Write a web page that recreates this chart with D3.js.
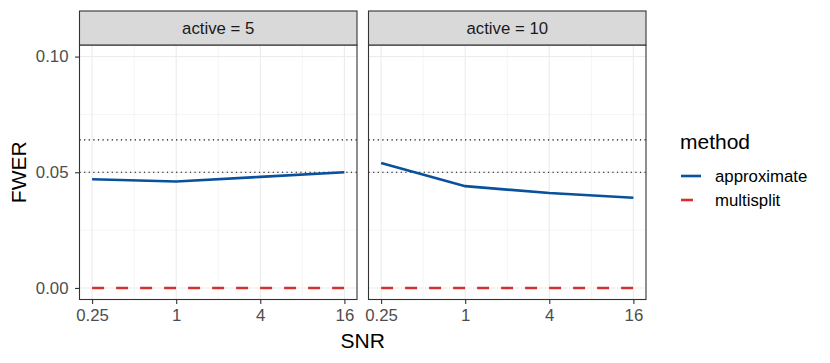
<!DOCTYPE html>
<html>
<head>
<meta charset="utf-8">
<script src="https://cdn.jsdelivr.net/npm/d3@7"></script>
<style>
  body { margin: 0; background: #fff; }
  text { font-family: "Liberation Sans", Arial, sans-serif; }
</style>
</head>
<body>
<svg id="chart" width="830" height="363"></svg>
<script>
// data
var snr = [0.25, 1, 4, 16];
var panels = ["active = 5", "active = 10"];
var methods = ["approximate", "multisplit"];
var approx5 = [0.047, 0.046, 0.048, 0.050];
var approx10 = [0.054, 0.044, 0.041, 0.039];
var multi5 = [0, 0, 0, 0];
var multi10 = [0, 0, 0, 0];
var refLines = [0.05, 0.064];
var yTicks = [0, 0.05, 0.10];
var yMinor = [0.025, 0.075];
var xMinor = [0.5, 2, 8];

var colors = { approximate: "#08519c", multisplit: "#d53030" };
var dashes = { approximate: null, multisplit: "12,12" };

var seriesByPanel = [
  { approximate: approx5, multisplit: multi5 },
  { approximate: approx10, multisplit: multi10 }
];

var svg = d3.select("#chart");

var plotTop = 45, plotBottom = 299.5, stripTop = 11;
var panelX = [[79.5, 357], [368.5, 646]];
var small = 16.8, big = 21;

var y = d3.scaleLinear().domain([-0.005, 0.105]).range([plotBottom, plotTop]);

panels.forEach(function (label, i) {
  var x0 = panelX[i][0], x1 = panelX[i][1];
  var x = d3.scaleLog().base(2).domain([0.25 / Math.pow(2, 0.3), 16 * Math.pow(2, 0.3)]).range([x0, x1]);
  var g = svg.append("g");

  // minor grid
  g.selectAll(".ymin").data(yMinor).enter().append("line")
    .attr("x1", x0).attr("x2", x1).attr("y1", function (d) { return y(d); }).attr("y2", function (d) { return y(d); })
    .attr("stroke", "#ebebeb").attr("stroke-width", 0.55);
  g.selectAll(".xmin").data(xMinor).enter().append("line")
    .attr("y1", plotTop).attr("y2", plotBottom).attr("x1", function (d) { return x(d); }).attr("x2", function (d) { return x(d); })
    .attr("stroke", "#ebebeb").attr("stroke-width", 0.55);
  // major grid
  g.selectAll(".ymaj").data(yTicks).enter().append("line")
    .attr("x1", x0).attr("x2", x1).attr("y1", function (d) { return y(d); }).attr("y2", function (d) { return y(d); })
    .attr("stroke", "#ebebeb").attr("stroke-width", 1.1);
  g.selectAll(".xmaj").data(snr).enter().append("line")
    .attr("y1", plotTop).attr("y2", plotBottom).attr("x1", function (d) { return x(d); }).attr("x2", function (d) { return x(d); })
    .attr("stroke", "#ebebeb").attr("stroke-width", 1.1);

  // reference lines
  g.selectAll(".ref").data(refLines).enter().append("line")
    .attr("x1", x0).attr("x2", x1).attr("y1", function (d) { return y(d); }).attr("y2", function (d) { return y(d); })
    .attr("stroke", "#000").attr("stroke-width", 1.2).attr("stroke-dasharray", "1.2,3.4");

  // series
  var line = d3.line().x(function (d) { return x(d[0]); }).y(function (d) { return y(d[1]); });
  methods.forEach(function (m) {
    var vals = seriesByPanel[i][m];
    g.append("path")
      .datum(snr.map(function (s, k) { return [s, vals[k]]; }))
      .attr("d", line)
      .attr("fill", "none")
      .attr("stroke", colors[m])
      .attr("stroke-width", 2.6)
      .attr("stroke-dasharray", dashes[m]);
  });

  // panel border
  g.append("rect").attr("x", x0).attr("y", plotTop).attr("width", x1 - x0).attr("height", plotBottom - plotTop)
    .attr("fill", "none").attr("stroke", "#333").attr("stroke-width", 1.1);

  // strip
  g.append("rect").attr("x", x0).attr("y", stripTop).attr("width", x1 - x0).attr("height", plotTop - stripTop)
    .attr("fill", "#d9d9d9").attr("stroke", "#333").attr("stroke-width", 1.1);
  g.append("text").attr("x", (x0 + x1) / 2).attr("y", (stripTop + plotTop) / 2 + 6)
    .attr("text-anchor", "middle").attr("font-size", small).attr("fill", "#1a1a1a").text(label);

  // x axis
  var xAxis = d3.axisBottom(x).tickValues(snr).tickSize(4.5).tickPadding(5.5)
    .tickFormat(function (d) { return String(d); });
  var ax = g.append("g").attr("transform", "translate(0," + plotBottom + ")").call(xAxis);
  ax.attr("font-size", null).attr("font-family", null);
  ax.select(".domain").remove();
  ax.selectAll(".tick line").attr("stroke", "#333").attr("stroke-width", 1.1);
  ax.selectAll(".tick text").attr("font-size", small).attr("fill", "#4d4d4d");

  if (i === 0) {
    var yAxis = d3.axisLeft(y).tickValues(yTicks).tickSize(4.5).tickPadding(6.5)
      .tickFormat(d3.format(".2f"));
    var ay = g.append("g").attr("transform", "translate(" + x0 + ",0)").call(yAxis);
    ay.attr("font-size", null).attr("font-family", null);
    ay.select(".domain").remove();
    ay.selectAll(".tick line").attr("stroke", "#333").attr("stroke-width", 1.1);
    ay.selectAll(".tick text").attr("font-size", small).attr("fill", "#4d4d4d");
  }
});

// axis titles
svg.append("text").attr("x", (panelX[0][0] + panelX[1][1]) / 2).attr("y", 348)
  .attr("text-anchor", "middle").attr("font-size", big).attr("fill", "#000").text("SNR");
svg.append("text").attr("transform", "translate(26," + ((plotTop + plotBottom) / 2) + ") rotate(-90)")
  .attr("text-anchor", "middle").attr("font-size", big).attr("fill", "#000").text("FWER");

// legend
var legend = svg.append("g").attr("transform", "translate(680,0)");
legend.append("text").attr("x", 0).attr("y", 149).attr("font-size", big).attr("fill", "#000").text("method");
methods.forEach(function (m, k) {
  var ly = 176 + k * 24;
  legend.append("line").attr("x1", 1).attr("x2", 21).attr("y1", ly).attr("y2", ly)
    .attr("stroke", colors[m]).attr("stroke-width", 2.6)
    .attr("stroke-dasharray", dashes[m]);
  legend.append("text").attr("x", 35).attr("y", ly + 6).attr("font-size", small).attr("fill", "#000").text(m);
});
</script>
</body>
</html>
